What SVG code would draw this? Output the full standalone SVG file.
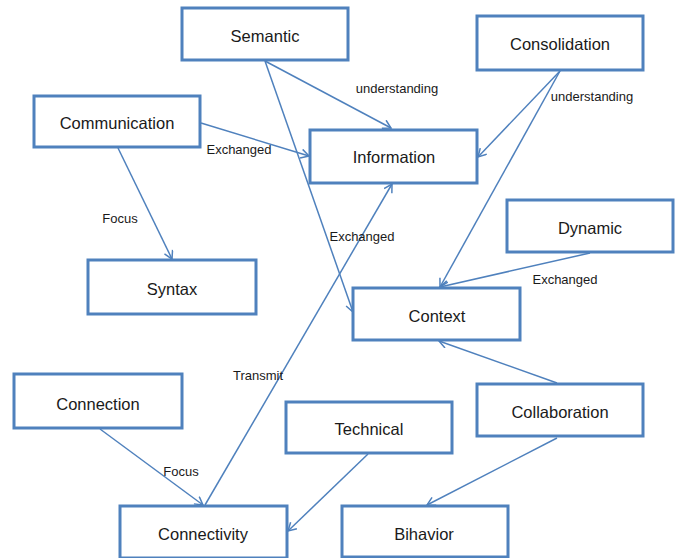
<svg xmlns="http://www.w3.org/2000/svg" width="681" height="558" viewBox="0 0 681 558">
<style>
.box{fill:#fff;stroke:#4f81bd;stroke-width:3}
.nt{font-family:"Liberation Sans",Arial,sans-serif;font-size:16.5px;fill:#1a1a1a;text-anchor:middle}
.lt{font-family:"Liberation Sans",Arial,sans-serif;font-size:13px;fill:#1a1a1a;text-anchor:middle}
.ln{stroke:#4f81bd;stroke-width:1.5;fill:none;marker-end:url(#ah)}
</style>
<defs>
<marker id="ah" markerUnits="userSpaceOnUse" markerWidth="12" markerHeight="12" refX="9" refY="5" orient="auto">
<path d="M1,0.5 L9,5 L1,9.5" fill="none" stroke="#4f81bd" stroke-width="1.5"/>
</marker>
</defs>
<rect width="681" height="558" fill="#fff"/>
<g id="connectors">
<line class="ln" x1="265" y1="61" x2="391" y2="128"/>
<line class="ln" x1="265" y1="61" x2="353" y2="312"/>
<line class="ln" x1="201" y1="123" x2="309" y2="156"/>
<line class="ln" x1="118" y1="148" x2="172" y2="259"/>
<line class="ln" x1="560" y1="71" x2="478" y2="157"/>
<line class="ln" x1="560" y1="71" x2="440" y2="287"/>
<line class="ln" x1="590" y1="253" x2="440" y2="287"/>
<line class="ln" x1="557" y1="383" x2="439" y2="341"/>
<line class="ln" x1="557" y1="438" x2="427" y2="505"/>
<line class="ln" x1="368" y1="454" x2="288" y2="531"/>
<line class="ln" x1="100" y1="429" x2="203" y2="505"/>
<line class="ln" x1="205" y1="505" x2="392" y2="184"/>
<text class="lt" x="397" y="93">understanding</text>
<text class="lt" x="592" y="101">understanding</text>
<text class="lt" x="239" y="154">Exchanged</text>
<text class="lt" x="120" y="223">Focus</text>
<text class="lt" x="362" y="241">Exchanged</text>
<text class="lt" x="565" y="284">Exchanged</text>
<text class="lt" x="258" y="380">Transmit</text>
<text class="lt" x="181" y="476">Focus</text>
</g>
<g id="semantic"><rect class="box" x="182" y="8" width="166" height="52"/><text class="nt" x="265" y="42">Semantic</text></g>
<g id="consolidation"><rect class="box" x="477" y="16" width="166" height="54"/><text class="nt" x="560" y="50">Consolidation</text></g>
<g id="communication"><rect class="box" x="34" y="96" width="166" height="51"/><text class="nt" x="117" y="129">Communication</text></g>
<g id="information"><rect class="box" x="310" y="130" width="167" height="53"/><text class="nt" x="394" y="163">Information</text></g>
<g id="syntax"><rect class="box" x="88" y="260" width="168" height="54"/><text class="nt" x="172" y="295">Syntax</text></g>
<g id="dynamic"><rect class="box" x="507" y="200" width="166" height="52"/><text class="nt" x="590" y="234">Dynamic</text></g>
<g id="context"><rect class="box" x="353" y="288" width="167" height="52"/><text class="nt" x="437" y="322">Context</text></g>
<g id="connection"><rect class="box" x="14" y="374" width="168" height="54"/><text class="nt" x="98" y="410">Connection</text></g>
<g id="technical"><rect class="box" x="286" y="402" width="166" height="51"/><text class="nt" x="369" y="435">Technical</text></g>
<g id="collaboration"><rect class="box" x="477" y="384" width="166" height="52"/><text class="nt" x="560" y="418">Collaboration</text></g>
<g id="connectivity"><rect class="box" x="120" y="506" width="167" height="52"/><text class="nt" x="203" y="540">Connectivity</text></g>
<g id="bihavior"><rect class="box" x="342" y="506" width="166" height="51"/><text class="nt" x="424" y="540">Bihavior</text></g>
</svg>
